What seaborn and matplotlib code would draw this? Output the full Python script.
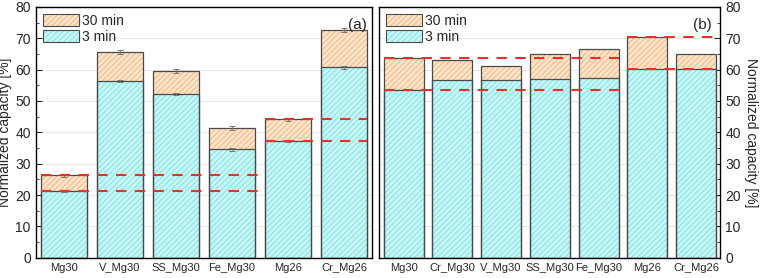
import numpy as np
import pandas as pd
import matplotlib
matplotlib.use("Agg")
import matplotlib.pyplot as plt
import seaborn as sns
from matplotlib.patches import Patch
from matplotlib.legend_handler import HandlerTuple
from matplotlib.ticker import MultipleLocator

sns.set_style("ticks")
plt.rcParams["font.family"] = ["Liberation Sans", "DejaVu Sans"]
plt.rcParams["hatch.linewidth"] = 0.45

# ── Data ────────────────────────────────────────────────────────────────────
samples_a = ["Mg30", "V_Mg30", "SS_Mg30", "Fe_Mg30", "Mg26", "Cr_Mg26"]
cap3_a = [21.4, 56.3, 52.1, 34.6, 37.3, 60.7]
cap30_a = [26.3, 65.6, 59.5, 41.4, 44.1, 72.7]
err3_a = [0.3, 0.4, 0.3, 0.4, 0.3, 0.4]
err30_a = [0.4, 0.7, 0.6, 0.6, 0.4, 0.7]

samples_b = ["Mg30", "Cr_Mg30", "V_Mg30", "SS_Mg30", "Fe_Mg30", "Mg26", "Cr_Mg26"]
cap3_b = [53.6, 56.6, 56.6, 56.9, 57.2, 60.2, 60.2]
cap30_b = [63.8, 63.1, 61.2, 65.1, 66.7, 70.4, 64.9]

C3_FACE, C3_HATCH = "#c6f6f6", "#62d9d9"
C30_FACE, C30_HATCH = "#fde4c8", "#eda264"
EDGE = "#4a4a4a"
RED = "#e8312f"

fig = plt.figure(figsize=(7.6, 2.78), dpi=100)
ax_a = fig.add_axes([0.047, 0.073, 0.443, 0.902])
ax_b = fig.add_axes([0.499, 0.073, 0.449, 0.902])


def draw_stack(ax, names, c3, c30):
    df = pd.DataFrame({"sample": names, "c3": c3, "c30": c30})
    # hatched fills first (edge = hatch colour), then dark outlines
    for col, face, hatch_c in [("c30", C30_FACE, C30_HATCH), ("c3", C3_FACE, C3_HATCH)]:
        sns.barplot(data=df, x="sample", y=col, order=names, ax=ax, width=0.82,
                    color=face, edgecolor=hatch_c, linewidth=0, hatch="//////",
                    saturation=1, errorbar=None, zorder=2)
    for col in ["c30", "c3"]:
        sns.barplot(data=df, x="sample", y=col, order=names, ax=ax, width=0.82,
                    fill=False, edgecolor=EDGE, linewidth=0.9,
                    errorbar=None, zorder=3)


def style_axis(ax, n):
    ax.set_xlim(-0.5, n - 0.5)
    ax.set_ylim(0, 80)
    ax.yaxis.set_major_locator(MultipleLocator(10))
    ax.yaxis.set_minor_locator(MultipleLocator(5))
    ax.tick_params(axis="y", which="both", direction="in", labelsize=10)
    ax.tick_params(axis="y", which="major", length=4)
    ax.tick_params(axis="y", which="minor", length=2)
    ax.tick_params(axis="x", length=0, labelsize=8)
    ax.set_xlabel("")
    ax.grid(axis="y", color="#e8e8e8", linewidth=0.7, zorder=0)
    ax.set_axisbelow(True)
    for s in ax.spines.values():
        s.set_visible(True)
        s.set_linewidth(1.0)
        s.set_color("black")


def dashed(ax, y, x0, x1):
    ax.plot([x0, x1], [y, y], color=RED, linestyle=(0, (5, 4)), linewidth=1.5, zorder=5)


# ── Panel (a) ───────────────────────────────────────────────────────────────
draw_stack(ax_a, samples_a, cap3_a, cap30_a)
xs = np.arange(len(samples_a))
ax_a.errorbar(xs, cap30_a, yerr=err30_a, fmt="none", ecolor="#777777",
              elinewidth=0.7, capsize=2, capthick=0.7, zorder=4)
ax_a.errorbar(xs, cap3_a, yerr=err3_a, fmt="none", ecolor="#777777",
              elinewidth=0.7, capsize=2, capthick=0.7, zorder=4)
style_axis(ax_a, len(samples_a))
ax_a.set_ylabel("Normalized capacity [%]", fontsize=10, labelpad=2)
dashed(ax_a, cap3_a[0], -0.41, 3.5)
dashed(ax_a, cap30_a[0], -0.41, 3.5)
dashed(ax_a, cap3_a[4], 3.59, 5.41)
dashed(ax_a, cap30_a[4], 3.59, 5.41)
ax_a.text(0.985, 0.93, "(a)", transform=ax_a.transAxes, ha="right", va="center", fontsize=11)

# ── Panel (b) ───────────────────────────────────────────────────────────────
draw_stack(ax_b, samples_b, cap3_b, cap30_b)
style_axis(ax_b, len(samples_b))
ax_b.yaxis.tick_right()
ax_b.yaxis.set_label_position("right")
ax_b.tick_params(axis="y", which="both", left=False, right=True)
ax_b.set_ylabel("Normalized capacity [%]", fontsize=10, rotation=270, labelpad=12)
dashed(ax_b, cap3_b[0], -0.41, 4.5)
dashed(ax_b, cap30_b[0], -0.41, 4.5)
dashed(ax_b, cap3_b[5], 4.59, 6.45)
dashed(ax_b, cap30_b[5], 4.59, 6.45)
ax_b.text(0.975, 0.93, "(b)", transform=ax_b.transAxes, ha="right", va="center", fontsize=11)

# ── Legends ─────────────────────────────────────────────────────────────────
def legend_entry(face, hatch_c):
    fill = Patch(facecolor=face, edgecolor=hatch_c, hatch="//////", linewidth=0)
    outline = Patch(facecolor="none", edgecolor=EDGE, linewidth=0.8)
    return (fill, outline)


handles = [legend_entry(C30_FACE, C30_HATCH), legend_entry(C3_FACE, C3_HATCH)]
for ax in (ax_a, ax_b):
    ax.legend(handles=handles, labels=["30 min", "3 min"], loc="upper left",
              fontsize=10, frameon=False,
              handler_map={tuple: HandlerTuple(ndivide=1, pad=0)},
              handlelength=2.6, handleheight=1.0, handletextpad=0.2,
              labelspacing=0.15, borderpad=0.2, borderaxespad=0.3)

fig.savefig("out.png", dpi=100)
